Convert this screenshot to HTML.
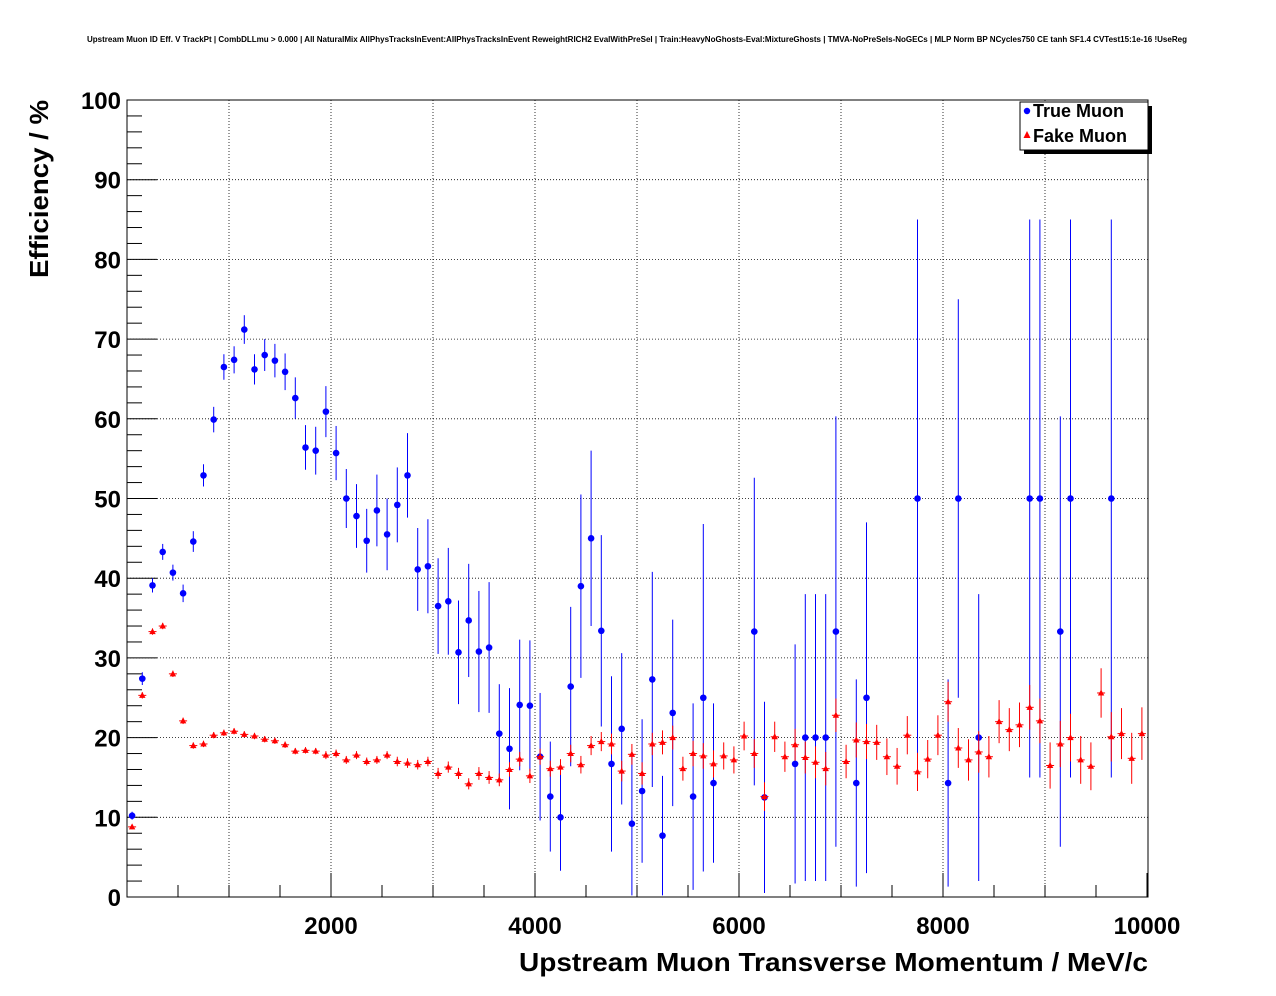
<!DOCTYPE html>
<html><head><meta charset="utf-8"><style>
body{margin:0;background:#fff;}
svg{display:block;font-family:"Liberation Sans",sans-serif;}
</style></head><body>
<svg id="c" width="1276" height="996">
<text x="637" y="42" font-size="7.9" font-weight="bold" text-anchor="middle" textLength="1100" lengthAdjust="spacingAndGlyphs">Upstream Muon ID Eff. V TrackPt | CombDLLmu &gt; 0.000 | All NaturalMix AllPhysTracksInEvent:AllPhysTracksInEvent ReweightRICH2 EvalWithPreSel | Train:HeavyNoGhosts-Eval:MixtureGhosts | TMVA-NoPreSels-NoGECs | MLP Norm BP NCycles750 CE tanh SF1.4 CVTest15:1e-16 !UseReg</text>
<g id="grid"></g>
<g id="axes"></g>
<g id="true"></g>
<g id="fake"></g>
<text x="1148" y="971" font-size="26" font-weight="bold" text-anchor="end" textLength="629" lengthAdjust="spacingAndGlyphs">Upstream Muon Transverse Momentum / MeV/c</text>
<text transform="translate(48,278) rotate(-90)" font-size="26" font-weight="bold" text-anchor="start" textLength="178" lengthAdjust="spacingAndGlyphs">Efficiency / %</text>
<g>
<rect x="1024" y="106" width="128" height="48" fill="#000"/>
<rect x="1020" y="102" width="128" height="48" fill="#fff" stroke="#000" stroke-width="1"/>
<circle cx="1027" cy="111" r="3.2" fill="#00f"/>
<text x="1033" y="117" font-size="18" font-weight="bold">True Muon</text>
<polygon points="1027,131 1023.5,138 1030.5,138" fill="#f00"/>
<text x="1033" y="142" font-size="18" font-weight="bold">Fake Muon</text>
</g>
</svg>
<script>
const xTicks=[2000,4000,6000,8000,10000];
const yTicks=[0,10,20,30,40,50,60,70,80,90,100];
const binWidth=100;
const trueVals=[10.2,27.4,39.1,43.3,40.7,38.1,44.6,52.9,59.9,66.5,67.4,71.2,66.2,68.0,67.3,65.9,62.6,56.4,56.0,60.9,55.7,50.0,47.8,44.7,48.5,45.5,49.2,52.9,41.1,41.5,36.5,37.1,30.7,34.7,30.8,31.3,20.5,18.6,24.1,24.0,17.6,12.6,10.0,26.4,39.0,45.0,33.4,16.7,21.1,9.2,13.3,27.3,7.7,23.1,null,12.6,25.0,14.3,null,null,null,33.3,12.5,null,null,16.7,20,20,20,33.3,null,14.3,25,null,null,null,null,50,null,null,14.3,50,null,20,null,null,null,null,50,50,null,33.3,50,null,null,null,50,null,null,null];
const trueErr=[0.5,0.8,0.9,1.0,1.0,1.1,1.3,1.4,1.6,1.6,1.7,1.8,1.9,2.0,2.1,2.3,2.6,2.8,3.0,3.2,3.4,3.7,4.0,4.0,4.5,4.5,4.7,5.3,5.2,5.9,6.0,6.7,6.5,7.1,7.6,8.2,6.2,7.6,8.2,8.2,8,6.9,6.7,10,11.5,11,12,11,9.5,9,9,13.5,7.5,11.7,0,11.7,21.8,10,0,0,0,19.3,12,0,0,15,18,18,18,27,0,13,22,0,0,0,0,35,0,0,13,25,0,18,0,0,0,0,35,35,0,27,35,0,0,0,35,0,0,0];
const fakeVals=[8.8,25.3,33.3,34.0,28.0,22.1,19.0,19.2,20.3,20.6,20.8,20.4,20.2,19.8,19.6,19.1,18.3,18.4,18.3,17.8,18.0,17.2,17.8,17.0,17.2,17.8,17.0,16.8,16.6,17.0,15.5,16.3,15.5,14.2,15.5,15.0,14.7,16.0,17.3,15.2,17.6,16.1,16.3,18.0,16.6,19.0,19.5,19.2,15.8,17.9,15.5,19.2,19.4,20.0,16.1,18.0,17.7,16.7,17.7,17.2,20.2,18.0,12.6,20.1,17.6,19.1,17.5,16.9,16.1,22.8,17.0,19.7,19.5,19.4,17.6,16.4,20.3,15.7,17.3,20.3,24.5,18.7,17.2,18.2,17.6,22.0,21.0,21.6,23.8,22.1,16.5,19.2,20.0,17.2,16.4,25.6,20.1,20.5,17.4,20.5];
const fakeErr=[0.3,0.4,0.4,0.4,0.4,0.4,0.4,0.4,0.4,0.4,0.4,0.4,0.4,0.4,0.4,0.4,0.4,0.4,0.4,0.5,0.5,0.5,0.5,0.5,0.5,0.5,0.6,0.6,0.6,0.6,0.7,0.7,0.7,0.7,0.8,0.8,0.8,0.9,0.9,0.9,1.0,1.0,1.0,1.1,1.1,1.2,1.2,1.3,1.3,1.3,1.4,1.4,1.5,1.5,1.5,1.6,1.6,1.7,1.7,1.7,1.8,1.8,1.8,1.9,1.9,2.0,2.0,2.0,2.1,2.1,2.1,2.2,2.2,2.2,2.3,2.3,2.4,2.4,2.4,2.5,2.5,2.5,2.6,2.6,2.6,2.7,2.7,2.8,2.8,2.8,2.9,2.9,3.0,3.0,3.0,3.1,3.1,3.2,3.2,3.3];

const NS='http://www.w3.org/2000/svg';
const XV0=127,XV1=1147,FL=127,FR=1148,Y0=897,Y1=100;
const xs=v=>XV0+(v/10000)*(XV1-XV0);
const ys=v=>Y0-(v/100)*(Y0-Y1);
function mk(tag,attrs,parent){const e=document.createElementNS(NS,tag);for(const k in attrs)e.setAttribute(k,attrs[k]);parent.appendChild(e);return e;}
const grid=document.getElementById('grid'),axes=document.getElementById('axes');
for(let v=1000;v<10000;v+=1000){const l=mk('line',{x1:xs(v),x2:xs(v),y1:Y1,y2:Y0,stroke:'#000','stroke-width':0.8,'stroke-dasharray':'1,2'},grid);

}
yTicks.forEach(v=>{if(v>0&&v<100){const l=mk('line',{x1:FL,x2:FR,y1:ys(v),y2:ys(v),stroke:'#000','stroke-width':0.8,'stroke-dasharray':'1,2'},grid);

}});
const fr=mk('rect',{x:FL,y:Y1,width:FR-FL,height:Y0-Y1,fill:'none',stroke:'#000','stroke-width':1},axes);


for(let v=500;v<=10000;v+=500){const len=v%2000===0?24:12;mk('line',{x1:xs(v),x2:xs(v),y1:Y0,y2:Y0-len,stroke:'#000'},axes);}
for(let v=0;v<=100;v+=2){const len=v%10===0?30:15;mk('line',{x1:FL,x2:FL+len,y1:ys(v),y2:ys(v),stroke:'#000'},axes);}
xTicks.forEach(v=>{const t=mk('text',{x:xs(v),y:Y0+37,'font-size':24,'font-weight':'bold','text-anchor':'middle'},axes);t.textContent=v;

});
yTicks.forEach(v=>{const t=mk('text',{x:FL-6,y:ys(v)+9,'font-size':24,'font-weight':'bold','text-anchor':'end'},axes);t.textContent=v;

});
const tg=document.getElementById('true'),fg=document.getElementById('fake');
trueVals.forEach((v,i)=>{if(v===null)return;const cx=xs(binWidth*(i+0.5));
mk('line',{x1:cx,x2:cx,y1:ys(Math.min(100,v+trueErr[i])),y2:ys(Math.max(0,v-trueErr[i])),stroke:'#00f','stroke-width':1},tg);
const c=mk('circle',{cx:cx,cy:ys(v),r:3.3,fill:'#00f'},tg);

});
fakeVals.forEach((v,i)=>{const cx=xs(binWidth*(i+0.5)),cy=ys(v);
mk('line',{x1:cx,x2:cx,y1:ys(v+fakeErr[i]),y2:ys(v-fakeErr[i]),stroke:'#f00','stroke-width':1},fg);
mk('line',{x1:cx-4,x2:cx+4,y1:cy,y2:cy,stroke:'#f00','stroke-width':1},fg);
const p=mk('polygon',{points:`${cx},${cy-3.5} ${cx-3.2},${cy+2.5} ${cx+3.2},${cy+2.5}`,fill:'#f00'},fg);

});
</script>
</body></html>
